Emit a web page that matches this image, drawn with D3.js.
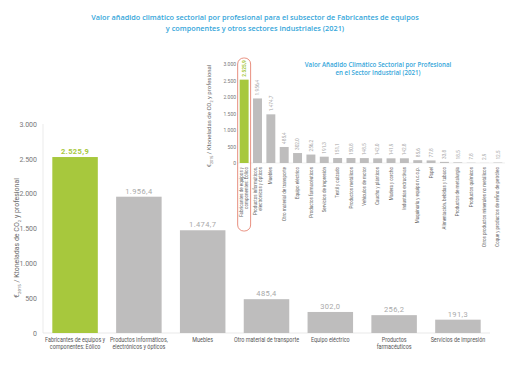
<!DOCTYPE html>
<html><head><meta charset="utf-8">
<script src="https://cdn.jsdelivr.net/npm/d3@7"></script>
<style>
html,body{margin:0;padding:0;background:#fff;}
svg{display:block;}
</style></head>
<body>
<svg id="chart" width="510" height="382"></svg>
<script>
// ---- data ----
const titleLines = ["Valor añadido climático sectorial por profesional para el subsector de Fabricantes de equipos",
                    "y componentes y otros sectores industriales  (2021)"];
const mainCategories = ["Fabricantes de equipos y\ncomponentes: Eólico","Productos informáticos,\nelectrónicos y ópticos","Muebles","Otro material de transporte","Equipo eléctrico","Productos\nfarmacéuticos","Servicios de impresión"];
const mainValues = [2525.9, 1956.4, 1474.7, 485.4, 302.0, 256.2, 191.3];
const mainTicks = [0, 500, 1000, 1500, 2000, 2500, 3000];

const insetTitleLines = ["Valor Añadido Climático Sectorial por Profesional", "en el Sector Industrial (2021)"];
const insetCategories = ["Fabricantes de equipos y\ncomponentes: Eólico","Productos informáticos,\nelectrónicos y ópticos","Muebles","Otro material de transporte","Equipo eléctrico","Productos farmacéuticos","Servicios de impresión","Textil y calzado","Productos metálicos","Vehículos de motor","Caucho y plásticos","Madera y corcho","Industrias extractivas","Maquinaria y equipo n.c.o.p.","Papel","Alimentación, bebidas y tabaco","Productos de metalurgia","Productos químicos","Otros productos minerales no metálicos","Coque y productos de refino de petróleo"];
const insetValues = [2525.9, 1956.4, 1474.7, 485.4, 302.0, 256.2, 191.3, 151.1, 150.8, 148.5, 142.0, 141.9, 142.8, 85.6, 77.8, 33.8, 18.5, 7.8, 2.9, 12.5];
const insetTicks = [0, 500, 1000, 1500, 2000, 2500, 3000];

// ---- styles ----
const GREEN = "#a7c83d", GRAY = "#bebdbd", BLUE = "#35a6da", TXT = "#6a6a6a";
const loc = d3.formatLocale({decimal: ",", thousands: ".", grouping: [3], currency: ["", "€"]});
const fmtV = loc.format(",.1f"), fmtT = loc.format(",d");

const svg = d3.select("#chart");

// title
svg.append("g").selectAll("text").data(titleLines).join("text")
  .attr("x", 255).attr("y", (d, i) => 20 + i * 10.5)
  .attr("text-anchor", "middle").attr("fill", BLUE)
  .style("font-family", "'Open Sans', sans-serif").style("font-weight", 600).style("font-size", "7.3px")
  .text(d => d);

// ---- main chart ----
const x = d3.scaleBand().domain(mainCategories).range([43, 490]).paddingInner(0.287).paddingOuter(0.146);
const y = d3.scaleLinear().domain([0, 3000]).range([333, 124]);

const main = svg.append("g");
main.append("line").attr("x1", 43).attr("x2", 490).attr("y1", y(0)).attr("y2", y(0)).attr("stroke", "#e3e3e3").attr("stroke-width", 0.8);
main.append("line").attr("x1", 43).attr("x2", 43).attr("y1", y(0)).attr("y2", y(3000)).attr("stroke", "#e6e6e6").attr("stroke-width", 0.8);

const yAxis = main.append("g").attr("transform", "translate(43,0)")
  .call(d3.axisLeft(y).tickValues(mainTicks).tickFormat(fmtT).tickSize(0).tickPadding(6));
yAxis.select(".domain").remove();
yAxis.selectAll("text").attr("fill", "#777").style("font-family", "Roboto, sans-serif").style("font-size", "7px");

main.selectAll("rect.bar").data(mainValues).join("rect").attr("class", "bar")
  .attr("x", (d, i) => x(mainCategories[i])).attr("width", x.bandwidth())
  .attr("y", d => y(d)).attr("height", d => y(0) - y(d))
  .attr("fill", (d, i) => i === 0 ? GREEN : GRAY);

main.selectAll("text.val").data(mainValues).join("text").attr("class", "val")
  .attr("x", (d, i) => x(mainCategories[i]) + x.bandwidth() / 2)
  .attr("y", d => y(d) - 3)
  .attr("text-anchor", "middle")
  .attr("fill", (d, i) => i === 0 ? GREEN : "#a9a9a9")
  .style("font-family", "Roboto, sans-serif").style("font-size", "7.5px")
  .style("font-weight", (d, i) => i === 0 ? 700 : 400)
  .style("letter-spacing", "0.4px")
  .text(d => fmtV(d));

const xl = main.selectAll("text.cat").data(mainCategories).join("text").attr("class", "cat")
  .attr("transform", d => `translate(${x(d) + x.bandwidth() / 2},342) scale(0.8,1)`)
  .attr("text-anchor", "middle").attr("fill", "#555")
  .style("font-family", "Roboto, sans-serif").style("font-size", "6.8px");
xl.each(function(d) {
  const lines = d.split("\n");
  d3.select(this).selectAll("tspan").data(lines).join("tspan")
    .attr("x", 0).attr("dy", (l, i) => i === 0 ? 0 : 7.5).text(l => l);
});

function yTitle(g, cx, cy, size) {
  const t = g.append("text").attr("transform", `translate(${cx},${cy}) rotate(-90)`)
    .attr("text-anchor", "middle").attr("fill", TXT)
    .style("font-family", "Roboto, sans-serif").style("font-size", size + "px");
  const sub = size * 0.62;
  t.append("tspan").text("€");
  t.append("tspan").attr("dy", size * 0.3).style("font-size", sub + "px").text("2015");
  t.append("tspan").attr("dy", -size * 0.3).text(" / Ktoneladas de CO");
  t.append("tspan").attr("dy", size * 0.3).style("font-size", sub + "px").text("2");
  t.append("tspan").attr("dy", -size * 0.3).text(" y profesional");
}
yTitle(main, 19, 238, 7);

// ---- inset ----
const ix = d3.scaleBand().domain(insetCategories).range([237, 505]).paddingInner(0.33).paddingOuter(0.2);
const iy = d3.scaleLinear().domain([0, 3000]).range([163, 64]);
const inset = svg.append("g");

inset.append("line").attr("x1", 237).attr("x2", 505).attr("y1", iy(0)).attr("y2", iy(0)).attr("stroke", "#e6e6e6").attr("stroke-width", 0.6);

const iAxis = inset.append("g").attr("transform", "translate(240,0)")
  .call(d3.axisLeft(iy).tickValues(insetTicks).tickFormat(fmtT).tickSize(0).tickPadding(4));
iAxis.select(".domain").remove();
iAxis.selectAll("text").attr("fill", "#777").style("font-family", "Roboto, sans-serif").style("font-size", "5px");

yTitle(inset, 211, 116, 6);

inset.selectAll("rect.ibar").data(insetValues).join("rect").attr("class", "ibar")
  .attr("x", (d, i) => ix(insetCategories[i])).attr("width", ix.bandwidth())
  .attr("y", d => iy(d)).attr("height", d => iy(0) - iy(d))
  .attr("fill", (d, i) => i === 0 ? GREEN : GRAY);

inset.selectAll("text.ival").data(insetValues).join("text").attr("class", "ival")
  .attr("transform", (d, i) => `translate(${ix(insetCategories[i]) + ix.bandwidth() / 2 + 1.8},${iy(d) - 3}) rotate(-90)`)
  .attr("fill", (d, i) => i === 0 ? GREEN : "#a5a5a5")
  .style("font-family", "Roboto, sans-serif").style("font-size", "4.8px")
  .style("font-weight", (d, i) => i === 0 ? 700 : 400)
  .text(d => fmtV(d));

inset.selectAll("text.icat").data(insetCategories).join("text").attr("class", "icat")
  .attr("transform", d => `translate(${ix(d) + ix.bandwidth() / 2},167) rotate(-90)`)
  .attr("text-anchor", "end").attr("fill", "#666")
  .style("font-family", "Roboto, sans-serif").style("font-size", "4.5px")
  .each(function(d) {
    const lines = d.split("\n");
    const n = lines.length;
    d3.select(this).selectAll("tspan").data(lines).join("tspan")
      .attr("x", 0).attr("y", (l, i) => (i - (n - 1) / 2) * 5 + 1.6).text(l => l);
  });

// highlight outline around first inset category
const b0 = ix(insetCategories[0]);
inset.append("rect").attr("x", b0 - 2).attr("y", 58).attr("width", ix.bandwidth() + 4).attr("height", 173)
  .attr("rx", 6).attr("fill", "none").attr("stroke", "#e2735f").attr("stroke-width", 0.8);

svg.append("g").selectAll("text").data(insetTitleLines).join("text")
  .attr("x", 378).attr("y", (d, i) => 67 + i * 8)
  .attr("text-anchor", "middle").attr("fill", BLUE)
  .style("font-family", "'Open Sans', sans-serif").style("font-weight", 600).style("font-size", "6.2px")
  .text(d => d);
</script>
</body></html>
